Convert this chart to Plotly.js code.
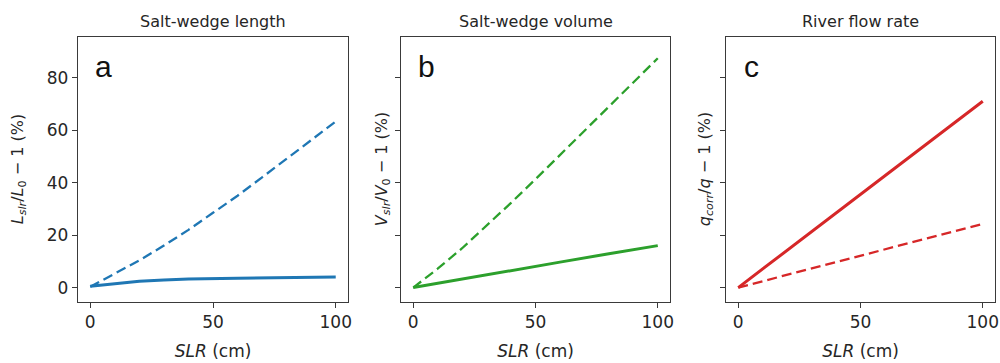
<!DOCTYPE html>
<html><head><meta charset="utf-8">
<script src="https://cdn.plot.ly/plotly-3.0.1.min.js"></script>
<style>html,body{margin:0;padding:0;background:#fff}</style>
</head><body>
<div id="chart" style="width:1000px;height:363px"></div>
<script>
// ---- data ----
const slrLengthSolid = [0, 10, 20, 30, 40, 60, 80, 100];
const lengthSolid    = [0.5, 1.4, 2.4, 2.9, 3.3, 3.6, 3.8, 4.0];
const slrFine        = [0, 10, 20, 30, 40, 50, 60, 70, 80, 90, 100];
const lengthDashed   = [0.3, 5.2, 10.4, 16, 22, 28.5, 35, 42, 49, 56, 63.3];
const volumeDashed   = [0, 7.2, 15, 23.5, 32.3, 41.3, 50.5, 59.8, 69, 78.2, 87.4];
const slr            = [0, 20, 40, 60, 80, 100];
const volumeSolid    = [0, 3.3, 6.5, 9.7, 12.9, 16];
const flowSolid      = [0, 14.3, 28.5, 42.6, 56.8, 71];
const flowDashed     = [0, 4.9, 9.7, 14.6, 19.4, 24.3];
const panelTitles    = ["Salt-wedge length", "Salt-wedge volume", "River flow rate"];
const panelLetters   = ["a", "b", "c"];
const yLabels = [
  "<i>L</i><sub><i>slr</i></sub>/<i>L</i><sub>0</sub> \u2212 1 (%)",
  "<i>V</i><sub><i>slr</i></sub>/<i>V</i><sub>0</sub> \u2212 1 (%)",
  "<i>q</i><sub><i>corr</i></sub>/<i>q</i> \u2212 1 (%)"
];
const yTicks = [0, 20, 40, 60, 80];
const xTicks = [0, 50, 100];

const BLUE = "#1f77b4", GREEN = "#2ca02c", RED = "#d62728";
const solidW = 3, dashW = 2.3, dashPat = "10px,5px";

const traces = [
  {x: slrLengthSolid, y: lengthSolid, xaxis: "x", yaxis: "y", line: {color: BLUE, width: solidW}},
  {x: slrFine, y: lengthDashed, xaxis: "x", yaxis: "y", line: {color: BLUE, width: dashW, dash: dashPat}},
  {x: slr, y: volumeSolid, xaxis: "x2", yaxis: "y2", line: {color: GREEN, width: solidW}},
  {x: slrFine, y: volumeDashed, xaxis: "x2", yaxis: "y2", line: {color: GREEN, width: dashW, dash: dashPat}},
  {x: slr, y: flowSolid, xaxis: "x3", yaxis: "y3", line: {color: RED, width: solidW}},
  {x: slr, y: flowDashed, xaxis: "x3", yaxis: "y3", line: {color: RED, width: dashW, dash: dashPat}}
].map(t => Object.assign({type: "scatter", mode: "lines", showlegend: false, hoverinfo: "skip"}, t));

const W = 1000, H = 363;
const px = v => v / W, py = v => 1 - v / H;
const frameL = [78, 401, 726], frameR = [348, 670, 995];
const frameTop = 37, frameBot = 301.5;
const textColor = "#262626", lineColor = "#3a3a3a";
const tickFont = {family: "DejaVu Sans", size: 17, color: textColor};

function xa(i) {
  return {
    domain: [px(frameL[i]), px(frameR[i])], range: [-5, 105], anchor: i ? "y" + (i + 1) : "y",
    tickvals: xTicks, ticks: "outside", ticklen: 5, tickwidth: 1, tickcolor: lineColor,
    showline: true, linecolor: lineColor, linewidth: 1.2, mirror: true, showgrid: false, zeroline: false,
    tickfont: tickFont, automargin: false,
    title: {text: "<i>SLR</i> (cm)", font: {family: "DejaVu Sans", size: 17, color: textColor}, standoff: 14}
  };
}
function ya(i) {
  return {
    domain: [py(frameBot), py(frameTop)], range: [-5.3, 95.5], anchor: i ? "x" + (i + 1) : "x",
    tickvals: yTicks, ticks: "outside", ticklen: 5, tickwidth: 1, tickcolor: lineColor,
    showticklabels: i === 0,
    showline: true, linecolor: lineColor, linewidth: 1.2, mirror: true, showgrid: false, zeroline: false,
    tickfont: tickFont, automargin: false
  };
}

const annotations = [];
const labelX = [18, 382, 705];
for (let i = 0; i < 3; i++) {
  const cx = (frameL[i] + frameR[i]) / 2;
  annotations.push({xref: "paper", yref: "paper", x: px(cx), y: py(21), text: panelTitles[i], showarrow: false,
    xanchor: "center", yanchor: "middle", font: {family: "DejaVu Sans", size: 16, color: textColor}});
  annotations.push({xref: "paper", yref: "paper", x: px(frameL[i] + 25), y: py(66), text: panelLetters[i], showarrow: false,
    xanchor: "center", yanchor: "middle", font: {family: "Liberation Sans", size: 30, color: "#111"}});
  annotations.push({xref: "paper", yref: "paper", x: px(labelX[i]), y: py((frameTop + frameBot) / 2), text: yLabels[i],
    showarrow: false, textangle: -90, xanchor: "center", yanchor: "middle",
    font: {family: "DejaVu Sans", size: 16, color: textColor}});
}

const layout = {
  width: W, height: H, margin: {l: 0, r: 0, t: 0, b: 0},
  paper_bgcolor: "#fff", plot_bgcolor: "#fff", showlegend: false,
  xaxis: xa(0), xaxis2: xa(1), xaxis3: xa(2),
  yaxis: ya(0), yaxis2: ya(1), yaxis3: ya(2),
  annotations: annotations
};
Plotly.newPlot("chart", traces, layout, {staticPlot: true, displayModeBar: false});
</script>
</body></html>
